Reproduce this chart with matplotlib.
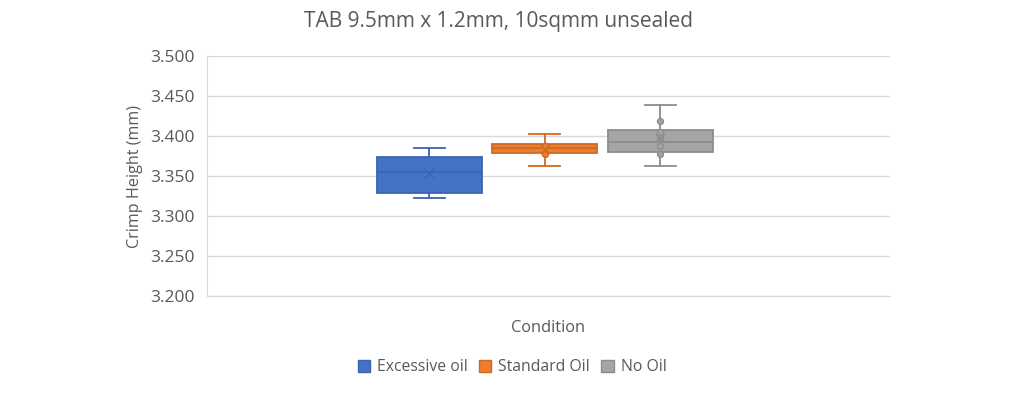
import matplotlib
matplotlib.use("Agg")
import matplotlib.pyplot as plt
from matplotlib.patches import Patch

plt.rcParams['font.family'] = ['Open Sans', 'DejaVu Sans']

title = "TAB 9.5mm x 1.2mm, 10sqmm unsealed"
series = ["Excessive oil", "Standard Oil", "No Oil"]
fills = ["#4472C4", "#ED7D31", "#A5A5A5"]
edges = ["#3A64B0", "#D06A22", "#8C8C8C"]
q1 = [3.329, 3.379, 3.380]
median = [3.355, 3.385, 3.392]
q3 = [3.374, 3.390, 3.408]
whislo = [3.323, 3.363, 3.363]
whishi = [3.385, 3.403, 3.439]
means = [3.354, 3.384, 3.397]
inner_points = [[], [3.377, 3.387], [3.419, 3.405, 3.398, 3.388, 3.378]]
yticks = [3.200, 3.250, 3.300, 3.350, 3.400, 3.450, 3.500]

fig = plt.figure(figsize=(10.24, 4.0), dpi=100)
ax = fig.add_axes([0.202, 0.26, 0.667, 0.60])

positions = [-1, 0, 1]
stats = []
for i in range(3):
    stats.append(dict(med=median[i], q1=q1[i], q3=q3[i], whislo=whislo[i],
                      whishi=whishi[i], mean=means[i], fliers=[], label=series[i]))

for i in range(3):
    ax.bxp([stats[i]], positions=[positions[i]], widths=0.91, patch_artist=True,
           showmeans=False, showfliers=False,
           boxprops=dict(facecolor=fills[i], edgecolor=edges[i], linewidth=1.3),
           medianprops=dict(color=edges[i], linewidth=1.3),
           whiskerprops=dict(color=edges[i], linewidth=1.3),
           capprops=dict(color=edges[i], linewidth=1.3),
           capwidths=0.27, zorder=3)
    ax.scatter([positions[i]], [means[i]], marker='x', s=45, color=edges[i],
               linewidths=1.0, zorder=5)
    if inner_points[i]:
        ax.scatter([positions[i]] * len(inner_points[i]), inner_points[i], s=18,
                   facecolor=fills[i], edgecolor=edges[i], linewidths=1.0, zorder=4)

ax.set_xlim(-2.924, 2.984)
ax.set_ylim(3.2, 3.5)
ax.set_yticks(yticks)
ax.set_yticklabels([f"{v:.3f}" for v in yticks])
ax.set_xticks([])
ax.grid(axis='y', color='#D9D9D9', linewidth=1.0, zorder=0)
ax.set_axisbelow(True)
for s in ['top', 'right']:
    ax.spines[s].set_visible(False)
ax.spines['left'].set_color('#D9D9D9')
ax.spines['bottom'].set_color('#D9D9D9')
ax.tick_params(axis='y', length=0, labelsize=12.5, labelcolor='#595959', pad=9)

ax.set_ylabel("Crimp Height (mm)", fontsize=11.6, color='#595959', labelpad=5)
ax.set_xlabel("Condition", fontsize=11.8, color='#595959', labelpad=17)
fig.text(0.487, 0.945, title, ha='center', va='center', fontsize=15, color='#595959')

handles = [Patch(facecolor=fills[i], edgecolor=edges[i], label=series[i]) for i in range(3)]
fig.legend(handles=handles, loc='center', bbox_to_anchor=(0.5, 0.082), ncol=3,
           frameon=False, fontsize=11.3, labelcolor='#595959', handlelength=0.8,
           handleheight=0.8, handletextpad=0.45, columnspacing=0.7)

fig.savefig("out.png", dpi=100)
